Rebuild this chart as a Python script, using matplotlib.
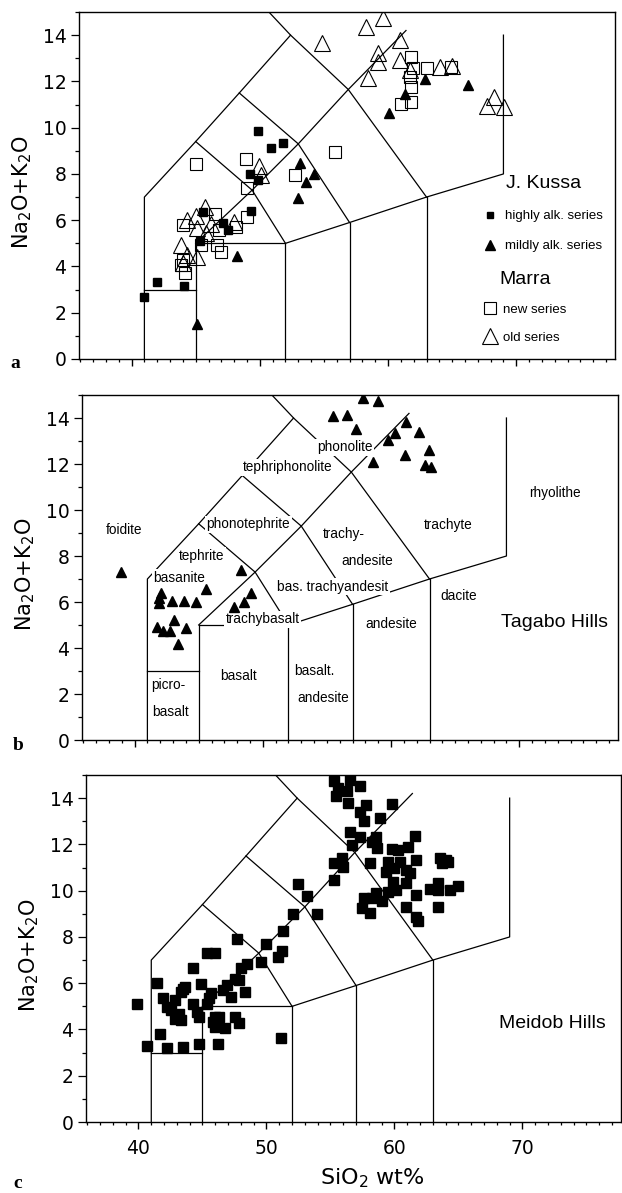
import matplotlib
matplotlib.use('Agg')
import matplotlib.pyplot as plt
from matplotlib.ticker import MultipleLocator
from matplotlib.lines import Line2D

# ---------------- data ----------------
# TAS field boundaries (SiO2, Na2O+K2O)
tas_lines = [
    [(41, 0), (41, 7), (45, 9.4), (48.4, 11.5), (52.4, 14.0), (50.2, 15.3)],
    [(41, 3), (45, 3)],
    [(45, 0), (45, 5), (52, 5)],
    [(45, 5), (49.4, 7.3), (53, 9.3), (56.9, 11.65), (61.4, 14.2)],
    [(45, 9.4), (49.4, 7.3), (52, 5), (57, 5.9), (63, 7), (69, 8), (69, 14)],
    [(48.4, 11.5), (53, 9.3), (57, 5.9)],
    [(52.4, 14.0), (56.9, 11.65), (63, 7)],
    [(52, 0), (52, 5)],
    [(57, 0), (57, 5.9)],
    [(63, 0), (63, 7)],
]

# panel a: J. Kussa highly alkaline series
a_high_si = [49.85, 50.91, 51.82, 49.23, 49.85, 49.28, 45.56, 47.13, 47.55, 45.32, 41.96, 44.1, 41.0]
a_high_alk = [9.86, 9.14, 9.35, 7.98, 7.74, 6.41, 6.34, 5.89, 5.58, 5.12, 3.34, 3.17, 2.67]
# panel a: J. Kussa mildly alkaline series
a_mild_si = [53.17, 54.25, 53.6, 52.96, 48.2, 45.14, 62.92, 61.32, 60.1, 66.23]
a_mild_alk = [8.46, 8.0, 7.67, 6.97, 4.45, 1.51, 12.1, 11.46, 10.65, 11.85]
# panel a: Marra new series
a_new_si = [45.01, 48.94, 55.88, 52.78, 49.02, 49.02, 46.51, 44.03, 46.95, 46.69, 45.4, 43.85,
            44.18, 43.98, 48.12, 46.82, 61.83, 61.96, 63.0, 64.94, 61.7, 61.83, 61.0, 61.83]
a_new_alk = [8.43, 8.63, 8.96, 7.96, 7.38, 6.13, 6.26, 5.79, 4.61, 4.93, 4.93, 4.06,
             3.7, 4.28, 5.72, 5.58, 13.04, 12.57, 12.57, 12.64, 12.2, 11.77, 11.02, 11.12]
# panel a: Marra old series
a_old_si = [58.26, 59.63, 54.84, 59.19, 59.25, 58.41, 60.93, 60.93, 61.71, 64.04, 65.0, 67.73,
            68.3, 69.08, 49.93, 50.1, 45.06, 44.36, 45.74, 45.14, 46.18, 47.99, 43.85, 44.36,
            45.14, 45.79, 43.98]
a_old_alk = [14.37, 14.73, 13.65, 13.22, 12.85, 12.14, 13.79, 12.93, 12.49, 12.64, 12.67, 10.94,
             11.31, 10.91, 8.35, 7.95, 6.18, 6.01, 6.59, 5.65, 5.84, 5.94, 4.93, 4.5,
             4.42, 5.43, 4.14]

# panel b: Tagabo Hills
b_si = [38.96, 42.04, 41.91, 41.91, 42.88, 43.82, 44.79, 45.57, 48.31, 43.04, 41.78, 42.25,
        42.77, 44.0, 43.4, 47.74, 48.52, 49.1, 55.44, 56.54, 57.27, 57.8, 58.97, 61.16,
        60.33, 59.75, 62.2, 61.06, 62.94, 58.63, 62.68, 63.15]
b_alk = [7.32, 6.38, 6.16, 5.94, 6.06, 6.06, 5.99, 6.57, 7.39, 5.22, 4.9, 4.75,
         4.75, 4.86, 4.17, 5.77, 5.99, 6.4, 14.1, 14.13, 13.53, 14.86, 14.75, 13.84,
         13.36, 13.04, 13.41, 12.39, 12.61, 12.1, 11.96, 11.86]

# panel c: Meidob Hills
c_si = [55.25, 55.62, 55.47, 56.31, 56.56, 57.33, 56.4, 57.74, 59.82, 57.33, 58.89, 57.65,
        56.56, 57.33, 56.71, 58.27, 58.58, 58.67, 61.63, 59.82, 61.07, 60.29, 55.31, 55.93,
        56.0, 58.11, 59.51, 60.45, 59.98, 61.69, 60.91, 61.22, 59.36, 55.25, 52.45, 59.92,
        60.91, 53.13, 60.13, 59.51, 57.65, 58.27, 58.58, 59.05, 57.49, 58.11, 61.69, 60.91,
        61.69, 61.85, 62.78, 63.4, 63.4, 64.34, 64.96, 63.4, 63.56, 64.02, 63.71, 64.18,
        52.05, 53.97, 51.33, 49.96, 47.72, 49.56, 50.89, 51.2, 45.36, 45.98, 44.27, 48.0,
        48.47, 47.85, 47.53, 48.31, 47.22, 46.6, 46.91, 41.47, 44.89, 43.49, 43.64, 43.33,
        45.67, 45.51, 45.36, 44.27, 41.93, 42.87, 42.24, 42.56, 43.18, 42.87, 43.33, 44.58,
        44.73, 45.98, 46.29, 45.82, 45.98, 46.76, 47.53, 47.85, 41.72, 40.69, 42.24, 43.49,
        44.73, 46.23, 51.11, 39.85]
c_alk = [14.75, 14.43, 14.1, 14.29, 14.79, 14.53, 13.78, 13.71, 13.75, 13.42, 13.13, 12.99,
         12.55, 12.31, 11.98, 12.12, 12.31, 11.83, 12.37, 11.79, 11.9, 11.76, 11.21, 11.4,
         11.01, 11.18, 11.26, 11.26, 10.97, 11.33, 10.89, 10.75, 10.82, 10.46, 10.29, 10.39,
         10.35, 9.77, 10.03, 9.96, 9.67, 9.67, 9.88, 9.57, 9.24, 9.02, 9.81, 9.31,
         8.87, 8.7, 10.07, 10.03, 10.35, 10.03, 10.2, 9.31, 11.4, 11.33, 11.18, 11.26,
         8.98, 8.99, 8.27, 7.68, 7.91, 6.93, 7.14, 7.4, 7.29, 7.32, 6.64, 6.64,
         6.83, 6.13, 6.2, 5.61, 5.41, 5.7, 5.92, 6.02, 5.96, 5.77, 5.84, 5.63,
         5.56, 5.34, 5.12, 5.09, 5.34, 5.27, 4.98, 4.83, 4.69, 4.47, 4.4, 4.76,
         4.55, 4.55, 4.52, 4.33, 4.11, 4.08, 4.52, 4.26, 3.82, 3.29, 3.2, 3.25,
         3.36, 3.39, 3.61, 5.09]

# panel b field names
b_names = ['foidite', 'phonotephrite', 'tephrite', 'basanite', 'tephriphonolite', 'phonolite',
           'trachy-', 'andesite', 'bas. trachyandesit', 'trachybasalt', 'basalt', 'picro-',
           'basalt', 'basalt.', 'andesite', 'andesite', 'dacite', 'trachyte', 'rhyolithe']
b_name_si = [39.17, 48.85, 45.25, 43.48, 51.96, 56.37, 56.34, 58.11, 55.47, 49.97, 48.08, 42.61,
             42.83, 54.04, 54.69, 60.03, 65.31, 64.47, 72.82]
b_name_alk = [9.14, 9.38, 8.02, 7.04, 11.86, 12.73, 8.97, 7.77, 6.66, 5.25, 2.77, 2.41,
              1.21, 2.99, 1.82, 5.03, 6.27, 9.36, 10.72]

# ---------------- figure ----------------
W, H = 622, 1193
fig = plt.figure(figsize=(W / 100, H / 100), dpi=100)
fig.patch.set_facecolor('white')


def add_ax(left, top, bottom, width=536):
    return fig.add_axes([left / W, 1 - bottom / H, width / W, (bottom - top) / H])


ax_a = add_ax(79, 12, 359)
ax_b = add_ax(82, 395, 740)
ax_c = add_ax(86, 775, 1122, 535)
axes = [ax_a, ax_b, ax_c]

tick_font = 'DejaVu Sans'
for ax in axes:
    ax.set_xlim(35.9, 77.7)
    ax.set_ylim(0, 15)
    ax.xaxis.set_major_locator(MultipleLocator(10))
    ax.xaxis.set_minor_locator(MultipleLocator(1))
    ax.yaxis.set_major_locator(MultipleLocator(2))
    ax.yaxis.set_minor_locator(MultipleLocator(1))
    ax.tick_params(axis='x', which='major', direction='out', length=5, width=1.0,
                   labelsize=13.5, pad=7)
    ax.tick_params(axis='x', which='minor', direction='out', length=2.5, width=0.9)
    ax.tick_params(axis='y', which='major', direction='out', length=6, width=0.9,
                   labelsize=13.5, pad=3)
    ax.tick_params(axis='y', which='minor', direction='out', length=3, width=0.9)
    for sp in ax.spines.values():
        sp.set_linewidth(1.0)
    ax.set_ylabel('Na$_2$O+K$_2$O', fontsize=15, va='center')
    ax.yaxis.set_label_coords(-0.106, 0.48)
    for line in tas_lines:
        xs = [p[0] for p in line]
        ys = [p[1] for p in line]
        ax.plot(xs, ys, color='black', lw=0.9, zorder=1, clip_on=True)

ax_a.tick_params(labelbottom=False)
ax_b.tick_params(labelbottom=False)

# panel a markers
ax_a.plot(a_new_si, a_new_alk, ls='none', marker='s', ms=8.5, mfc='none', mec='black',
          mew=0.8, zorder=3)
ax_a.plot(a_old_si, a_old_alk, ls='none', marker='^', ms=11, mfc='none', mec='black',
          mew=0.8, zorder=3)
ax_a.plot(a_high_si, a_high_alk, ls='none', marker='s', ms=5.8, mfc='black', mec='black',
          zorder=4)
ax_a.plot(a_mild_si, a_mild_alk, ls='none', marker='^', ms=7.2, mfc='black', mec='black',
          zorder=4)

legend_font = 'Liberation Sans'
h_high = Line2D([], [], ls='none', marker='s', ms=5, mfc='black', mec='black')
h_mild = Line2D([], [], ls='none', marker='^', ms=7, mfc='black', mec='black')
h_new = Line2D([], [], ls='none', marker='s', ms=8.5, mfc='none', mec='black', mew=0.8)
h_old = Line2D([], [], ls='none', marker='^', ms=12, mfc='none', mec='black', mew=0.8)
leg1 = ax_a.legend([h_high, h_mild], ['highly alk. series', 'mildly alk. series'],
                   title='J. Kussa', loc='upper left', bbox_to_anchor=(0.755, 0.53),
                   frameon=False, prop={'family': legend_font, 'size': 9.5},
                   labelspacing=1.35, handletextpad=0.6, handlelength=1.0,
                   borderpad=0, borderaxespad=0)
leg1.get_title().set_fontfamily(legend_font)
leg1.get_title().set_fontsize(14)
ax_a.add_artist(leg1)
leg2 = ax_a.legend([h_new, h_old], ['new series', 'old series'],
                   title='Marra', loc='upper left', bbox_to_anchor=(0.755, 0.255),
                   frameon=False, prop={'family': legend_font, 'size': 9.5},
                   labelspacing=1.2, handletextpad=0.5, handlelength=1.0,
                   borderpad=0, borderaxespad=0)
leg2.get_title().set_fontfamily(legend_font)
leg2.get_title().set_fontsize(14)

# panel b
ax_b.plot(b_si, b_alk, ls='none', marker='^', ms=7.7, mfc='black', mec='black', zorder=4)
for name, sx, sy in zip(b_names, b_name_si, b_name_alk):
    ax_b.text(sx, sy, name, fontsize=9.8, family=legend_font, ha='center', va='center',
              zorder=2, bbox=dict(boxstyle='square,pad=0.12', fc='white', ec='none'))
ax_b.text(72.73, 5.1, 'Tagabo Hills', fontsize=14, family=legend_font, ha='center',
          va='center', zorder=2)

# panel c
ax_c.plot(c_si, c_alk, ls='none', marker='s', ms=6.5, mfc='black', mec='black', zorder=4)
ax_c.text(72.36, 4.26, 'Meidob Hills', fontsize=14, family=legend_font, ha='center',
          va='center', zorder=2)
ax_c.set_xlabel('SiO$_2$ wt%', fontsize=16, va='center')
ax_c.xaxis.set_label_coords(0.536, -0.161)

# panel letters
for letter, px, py in [('a', 15, 363), ('b', 18, 745), ('c', 18, 1183)]:
    fig.text(px / W, 1 - py / H, letter, family='Liberation Serif', fontweight='bold',
             fontsize=14, ha='center', va='center')

fig.savefig('out.png', dpi=100)
